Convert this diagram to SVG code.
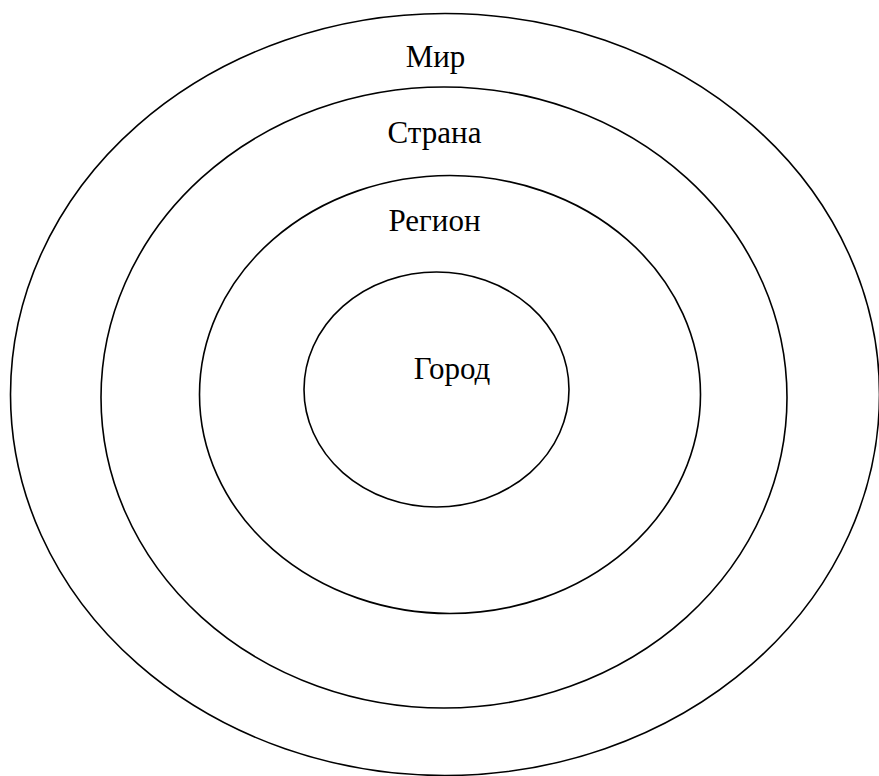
<svg xmlns="http://www.w3.org/2000/svg" width="879" height="776" viewBox="0 0 879 776">
<style>
.ring{fill:none;stroke:#000;stroke-width:1.6}
.lbl{font-family:"Liberation Serif","Times New Roman",serif;font-size:31px;fill:#000;text-anchor:middle}
</style>
<rect width="879" height="776" fill="#fff"/>
<g id="mir">
<ellipse class="ring" cx="445" cy="394.5" rx="434.5" ry="381"/>
<text class="lbl" x="435.5" y="67">Мир</text>
</g>
<g id="strana">
<ellipse class="ring" cx="444" cy="397.5" rx="343" ry="310.5"/>
<text class="lbl" x="434.5" y="143">Страна</text>
</g>
<g id="region">
<ellipse class="ring" cx="450" cy="394.5" rx="250.5" ry="219"/>
<text class="lbl" x="434.5" y="231">Регион</text>
</g>
<g id="gorod">
<ellipse class="ring" cx="436.5" cy="389.5" rx="132.5" ry="117.5"/>
<text class="lbl" x="452" y="379">Город</text>
</g>
<g id="connectors"/>
</svg>
